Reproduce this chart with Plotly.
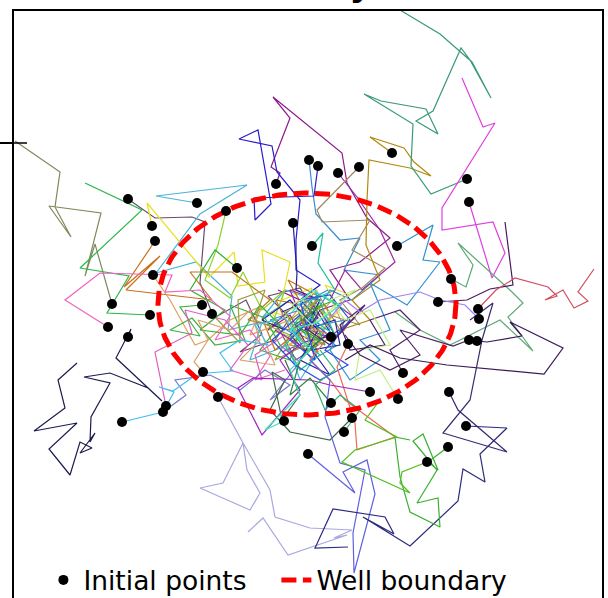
import numpy as np
import plotly.graph_objects as go

# Random-walk paths (x, y positions); the first point of each path is its initial point.
walk_01 = [(128,199),(155,218),(192,217),(205,222),(200,283),(214,318),(246,300),(262,334),(240,352),(275,340),(290,318),(268,296),(300,288),(315,312),(292,330),(318,345),(296,360),(275,322)]
walk_02 = [(197,203),(156,196),(247,185),(200,214),(156,273),(196,262),(232,296),(228,330),(262,322),(250,360),(288,345),(300,380),(318,352),(296,322),(330,330),(315,300),(285,290),(262,318),(290,300)]
walk_03 = [(152,226),(147,203),(209,277),(234,252),(238,286),(265,282),(262,250),(290,262),(282,300),(312,288),(300,320),(272,312),(290,345),(318,330),(340,310),(325,285),(350,295)]
walk_04 = [(155,241),(124,287),(160,256),(126,290),(212,300),(190,272),(232,272),(270,300),(248,320),(290,330),(276,300),(302,305),(288,280),(318,296),(300,330),(275,350),(262,318)]
walk_05 = [(153,275),(170,300),(195,345),(208,340),(230,320),(262,306),(250,335),(290,320),(305,300),(330,316),(318,345),(345,330),(332,300),(310,325),(286,348),(300,368)]
walk_06 = [(276,184),(280,173),(271,167),(290,118),(273,97),(342,153),(347,183),(367,218),(390,238),(360,262),(330,270),(350,300),(320,310),(335,335),(305,342),(290,315),(268,330),(300,300),(278,290)]
walk_07 = [(309,160),(312,187),(316,214),(340,240),(360,238),(344,270),(380,275),(352,300),(330,290),(310,322),(336,346),(312,360),(295,335),(270,320),(300,310),(320,338)]
walk_08 = [(318,166),(314,196),(254,198),(255,220),(271,204),(258,130),(239,139),(272,146),(277,172),(300,200),(296,240),(296,270),(320,285),(300,300),(318,318),(290,335),(306,352),(330,332),(310,300),(282,312)]
walk_09 = [(338,173),(357,197),(380,230),(395,262),(362,290),(345,270),(330,300),(355,318),(328,338),(300,325),(318,300),(290,290),(310,340),(282,352)]
walk_10 = [(359,167),(317,210),(322,222),(370,220),(352,250),(385,268),(362,288),(340,300),(360,325),(330,315),(316,290),(300,312),(322,340),(295,350)]
walk_11 = [(392,153),(370,137),(404,148),(414,162),(431,176),(410,168),(369,160),(367,200),(366,245),(380,280),(352,300),(370,320),(340,330),(325,305),(300,318),(318,352),(290,345)]
walk_12 = [(226,211),(218,245),(205,280),(230,298),(243,272),(262,310),(285,290),(270,330),(300,340),(285,312),(310,300),(330,320),(305,355),(320,300)]
walk_13 = [(293,223),(297,273),(296,290),(320,300),(305,330),(335,320),(340,345),(312,350),(330,375),(300,360),(318,330),(290,300),(262,320),(285,330)]
walk_14 = [(312,246),(323,233),(318,263),(335,290),(312,300),(290,330),(320,355),(300,370),(285,345),(310,318),(335,335),(315,292),(345,310)]
walk_15 = [(397,246),(433,225),(423,260),(440,262),(407,305),(370,283),(390,330),(360,340),(380,360),(350,380),(330,350),(345,320),(320,325),(300,305),(328,290)]
walk_16 = [(237,268),(215,250),(190,290),(225,310),(200,330),(240,335),(260,305),(280,325),(260,350),(290,360),(300,330),(325,345),(310,310),(335,300)]
walk_17 = [(467,179),(431,194),(411,166),(413,124),(364,94),(381,101),(426,109),(438,134),(416,121),(433,111),(461,48),(470,60),(491,98),(472,62),(440,34),(400,10),(380,-4)]
walk_18 = [(469,202),(492,278),(505,253),(493,222),(442,230),(442,208),(495,123),(483,127),(462,78)]
walk_19 = [(451,279),(466,287),(473,265),(458,243),(512,292),(523,303),(508,317),(533,351),(500,320),(480,330),(450,345),(420,330),(395,312)]
walk_20 = [(438,302),(467,300),(490,289),(513,285),(505,222)]
walk_21 = [(112,304),(95,244),(85,276),(101,213),(49,206),(71,237),(55,207),(60,172),(15,141)]
walk_22 = [(150,315),(107,313),(129,276),(80,268),(142,210),(85,183)]
walk_23 = [(108,327),(65,300),(100,273),(172,275),(165,292),(200,290),(230,316),(215,340),(250,330),(270,356),(255,380),(285,370)]
walk_24 = [(128,337),(131,329),(116,358),(162,401),(148,388),(110,373),(84,377),(110,383),(91,417),(90,442),(95,433),(80,453),(92,448),(80,442),(70,475),(49,449),(77,423),(34,431),(65,408),(58,380),(77,363)]
walk_25 = [(202,305),(180,307),(200,336),(170,330),(192,318),(215,345),(245,340),(230,305),(265,318),(280,345)]
walk_26 = [(212,314),(240,343),(238,300),(265,290),(255,320),(290,335),(275,360),(305,345),(290,320),(318,300),(300,318),(322,345)]
walk_27 = [(203,372),(194,362),(208,340),(198,320),(230,330),(250,310),(260,340),(240,360),(275,365),(262,335)]
walk_28 = [(166,406),(155,352),(192,333),(185,310),(225,320),(248,345),(230,370),(262,380),(255,355),(285,335)]
walk_29 = [(163,412),(186,395),(175,380),(210,375),(240,390),(265,370),(290,385),(270,400),(300,362),(280,345)]
walk_30 = [(122,422),(163,412),(174,392),(159,387),(173,391),(193,377),(207,373),(233,371),(220,353),(240,340),(268,345),(255,325),(285,318),(300,340)]
walk_31 = [(218,397),(243,443),(247,470),(260,493),(250,510),(200,488),(223,483),(243,443),(270,490),(275,517),(310,528),(352,530),(334,538),(347,535),(288,555),(263,518),(248,532)]
walk_32 = [(331,337),(310,320),(290,340),(315,360),(300,300),(330,295),(350,320),(325,350),(348,365),(320,380),(295,365),(272,340),(300,315)]
walk_33 = [(348,344),(337,367),(355,423),(357,450),(395,437),(368,417),(345,400),(330,380),(310,360),(330,335),(305,325)]
walk_34 = [(403,373),(390,350),(420,330),(400,310),(370,320),(385,345),(350,350),(340,325),(365,305),(330,345),(308,330),(320,310)]
walk_35 = [(370,392),(330,385),(310,380),(253,378),(238,388),(262,435),(300,390),(280,360),(300,345),(275,330)]
walk_36 = [(398,399),(380,370),(355,380),(360,350),(390,345),(370,310),(345,320),(330,300),(355,290),(312,325),(292,305),(318,290)]
walk_37 = [(331,403),(310,378),(290,395),(300,360),(320,340),(295,325),(318,308)]
walk_38 = [(352,418),(330,440),(290,432),(270,410),(285,380),(272,372),(282,420),(300,395),(285,360)]
walk_39 = [(344,432),(360,410),(340,395),(325,410),(315,385),(335,370),(320,350)]
walk_40 = [(284,421),(265,430),(300,395),(290,370),(310,350),(290,330),(318,322),(340,305),(312,290),(292,312)]
walk_41 = [(308,454),(355,493),(343,472),(367,460),(375,494),(354,573),(353,533),(365,470),(340,463),(325,417),(330,380),(310,360)]
walk_42 = [(478,309),(496,290),(515,278),(548,287),(557,296),(545,300),(563,290),(574,308),(588,301),(578,292),(594,269)]
walk_43 = [(479,319),(465,305),(440,300),(420,292),(400,296),(380,300),(360,312),(345,300),(330,318)]
walk_44 = [(469,340),(453,346),(400,330),(420,355),(390,370),(360,355),(345,335)]
walk_45 = [(477,341),(487,342),(522,336),(510,322),(563,348),(544,374),(447,365),(400,358),(370,345),(345,360)]
walk_46 = [(449,392),(458,410),(507,452),(443,433),(470,400),(482,340),(493,303),(470,320)]
walk_47 = [(466,426),(507,428),(480,454),(485,482),(463,469),(458,501),(410,546),(363,517),(394,534),(385,517),(333,509),(315,548),(348,547)]
walk_48 = [(448,447),(428,462),(438,470),(423,434),(413,441),(437,470),(417,503),(438,498),(440,527),(410,512),(400,477),(395,437),(410,440)]
walk_49 = [(427,462),(402,472),(400,483),(410,493),(342,462),(355,450),(397,437),(365,420),(380,400)]

WALKS = [walk_01, walk_02, walk_03, walk_04, walk_05, walk_06, walk_07, walk_08, walk_09, walk_10,
         walk_11, walk_12, walk_13, walk_14, walk_15, walk_16, walk_17, walk_18, walk_19, walk_20,
         walk_21, walk_22, walk_23, walk_24, walk_25, walk_26, walk_27, walk_28, walk_29, walk_30,
         walk_31, walk_32, walk_33, walk_34, walk_35, walk_36, walk_37, walk_38, walk_39, walk_40,
         walk_41, walk_42, walk_43, walk_44, walk_45, walk_46, walk_47, walk_48, walk_49]

WALK_COLORS = ["#6b4a6e", "#4ab4d6", "#e8e020", "#c8701a", "#e0a060", "#8c1a8c", "#3a8ad0", "#2a1ac8",
               "#9a2aa0", "#a08a60", "#b08a10", "#90d030", "#2020a0", "#20c0a0", "#3090d0", "#30b030",
               "#3a9a78", "#e040e0", "#60a878", "#4a1860", "#7f8a5c", "#28b848", "#f060c0", "#1c1c50",
               "#40b040", "#98a040", "#d8a070", "#e060c0", "#7878d0", "#40c0f0", "#a8a8e0", "#2850e0",
               "#f06a50", "#502070", "#a020c0", "#c0f080", "#2a8a3a", "#406848", "#30b070", "#40e0c0",
               "#6060e0", "#d05060", "#a080f0", "#4a2060", "#3a1a58", "#3a2a70", "#2a2a80", "#3ab030",
               "#50c020"]

WELL_CENTER = (307, 304)
WELL_RADII = (149, 111)

X_RANGE = [14, 602]
Y_RANGE = [598, 11]
Y_TICKS = [143]

fig = go.Figure()

for pts, col in zip(WALKS, WALK_COLORS):
    fig.add_trace(go.Scatter(
        x=[p[0] for p in pts], y=[p[1] for p in pts],
        mode="lines", line=dict(color=col, width=1.2),
        showlegend=False, hoverinfo="skip"))

# Well boundary from its centre and radii
theta = np.linspace(0, 2 * np.pi, 361)
fig.add_trace(go.Scatter(
    x=WELL_CENTER[0] + WELL_RADII[0] * np.cos(theta),
    y=WELL_CENTER[1] + WELL_RADII[1] * np.sin(theta),
    mode="lines", line=dict(color="#ff0000", width=5, dash="15px,6.5px"),
    name="Well boundary", legendrank=2, hoverinfo="skip"))

fig.add_trace(go.Scatter(
    x=[w[0][0] for w in WALKS], y=[w[0][1] for w in WALKS],
    mode="markers", marker=dict(color="black", size=10),
    name="Initial points", legendrank=1, hoverinfo="skip"))

axis_common = dict(showgrid=False, zeroline=False, showticklabels=False,
                   showline=True, mirror=True, linecolor="black", linewidth=2)

fig.update_layout(
    width=608, height=598,
    margin=dict(l=14, r=6, t=11, b=0, autoexpand=False),
    paper_bgcolor="white", plot_bgcolor="white",
    title=dict(text="Stochastic Dynamics", x=0.5, xref="paper",
               y=1, yref="container", yanchor="bottom", pad=dict(b=4),
               font=dict(family="DejaVu Sans", size=34, color="black", weight="bold")),
    xaxis=dict(range=X_RANGE, ticks="", **axis_common),
    yaxis=dict(range=Y_RANGE, tickvals=Y_TICKS, ticks="outside", ticklen=12,
               tickwidth=2, tickcolor="black", **axis_common),
    legend=dict(orientation="h", x=0.05, xanchor="left", y=-0.0105, yanchor="bottom",
                entrywidth=188, entrywidthmode="pixels",
                font=dict(family="DejaVu Sans", size=26.5, color="black"),
                bgcolor="rgba(0,0,0,0)", traceorder="normal"),
    shapes=[dict(type="line", xref="paper", yref="y", x0=0, x1=13 / 588,
                 y0=Y_TICKS[0], y1=Y_TICKS[0], line=dict(color="black", width=1.5))],
)

fig.write_html("out.html")
